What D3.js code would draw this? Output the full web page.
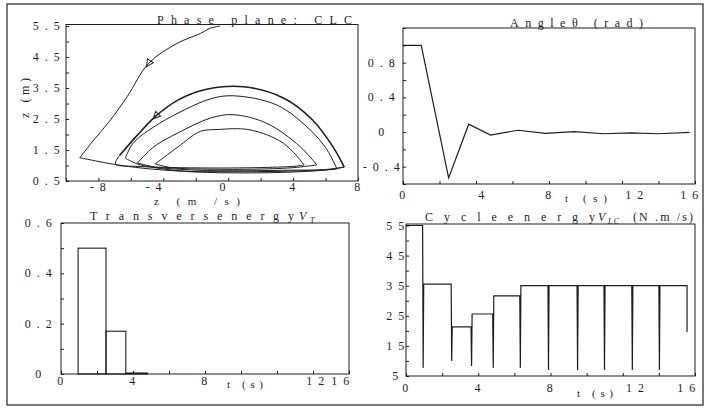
<!DOCTYPE html>
<html>
<head>
<meta charset="utf-8">
<script src="https://cdn.jsdelivr.net/npm/d3@7"></script>
<style>
  body { margin: 0; background: #fff; }
  svg text { font-family: "Liberation Serif", "Times New Roman", serif; fill: #1e1e1e; }
</style>
</head>
<body>
<script>
// ---- data ----

// phase plane (zdot m/s, z m)
const descent = [[-0.5, 5.5], [-1.1, 5.43], [-1.72, 5.26], [-3.16, 4.94], [-4.9, 4.3], [-6.23, 3.22], [-7.26, 2.47], [-8.29, 1.82], [-9.15, 1.25]];
const arcA = [[7.15, 0.95], [6.46, 1.6], [5.2, 2.47], [3.4, 3.18], [0.94, 3.54], [-1.4, 3.45], [-3.1, 3.11], [-4.45, 2.6], [-5.6, 1.98], [-6.7, 1.32]];
const arcB = [[6.7, 0.89], [6.1, 1.5], [5.05, 2.15], [3.0, 2.95], [0.3, 3.25], [-1.1, 3.15], [-3.1, 2.69], [-4.6, 2.24], [-5.85, 1.73], [-6.34, 1.24]];
const arcC = [[5.46, 1.02], [4.43, 1.61], [2.38, 2.36], [0.3, 2.64], [-1.1, 2.53], [-3.1, 2.05], [-4.6, 1.6], [-5.6, 1.08]];
const arcD = [[4.68, 1.02], [3.4, 1.72], [1.35, 2.15], [-0.7, 2.16], [-1.72, 2.1], [-3.1, 1.6], [-4.5, 1.05]];
const stances = [
  [[-9.15, 1.25], [-7.06, 1.04], [-5.2, 0.91], [-2, 0.79], [1, 0.76], [4, 0.79], [6.3, 0.87], [7.15, 0.95]],
  [[-6.7, 1.32], [-6.95, 1.05], [-5.5, 0.97], [-3, 0.93], [0, 0.92], [2.5, 0.94], [4.2, 0.98], [4.68, 1.02]],
  [[-4.5, 1.05], [-3.5, 0.93], [-1, 0.88], [1.5, 0.88], [4, 0.93], [5.46, 1.02]],
  [[-5.6, 1.08], [-4.5, 0.95], [-2, 0.85], [1, 0.83], [4, 0.85], [6, 0.86], [6.7, 0.89]],
  [[-6.34, 1.24], [-5.6, 1.05], [-3, 0.83], [0, 0.8], [3, 0.81], [6, 0.87], [7.15, 0.95]]
];

// angle theta (rad) vs t (s)
const angleT = [0, 1.0, 2.5, 3.6, 4.8, 6.3, 7.8, 9.4, 11.0, 12.5, 14.0, 15.7];
const angleV = [1.0, 1.0, -0.53, 0.09, -0.035, 0.02, -0.015, 0.005, -0.02, -0.01, -0.02, -0.005];

// transverse energy bars
const transStart = [0.95, 2.5, 3.6];
const transEnd = [2.5, 3.6, 4.8];
const transVal = [0.5, 0.17, 0.004];

// cycle energy: touchdown times, dip minimum, level after each touchdown
const cycleStart = 55;
const hopT = [0.92, 2.5, 3.6, 4.8, 6.3, 7.86, 9.47, 10.96, 12.5, 14.0];
const cycleMin = [7.7, 10, 8.3, 7.7, 7.7, 7, 7, 7, 7, 7];
const cycleLevel = [35.5, 21.3, 25.6, 31.6, 35, 35, 35, 35, 35, 35];
const cycleEndT = 15.56;
const cycleEndV = 19.6;

// tick labels
const p1X = [-8, -4, 0, 4, 8], p1Y = [0.5, 1.5, 2.5, 3.5, 4.5, 5.5];
const p2X = [0, 4, 8, 12, 16], p2Y = [-0.4, 0, 0.4, 0.8];
const p3X = [0, 4, 8, 12, 16], p3Y = [0, 0.2, 0.4, 0.6];
const p4X = [0, 4, 8, 12, 16], p4Y = [5, 15, 25, 35, 45, 55];

// ---- drawing ----
const ink = '#1e1e1e';
const svg = d3.select('body').append('svg').attr('width', 717).attr('height', 408);

svg.append('rect').attr('x', 7).attr('y', 4).attr('width', 696).attr('height', 401)
  .attr('fill', 'none').attr('stroke', '#333').attr('stroke-width', 1.3);

const spaced = d => String(d).split('').join(' ');

function panel(o) {
  const x = d3.scaleLinear().domain(o.xDom).range(o.xR);
  const y = d3.scaleLinear().domain(o.yDom).range(o.yR);
  const g = svg.append('g');
  g.append('rect')
    .attr('x', o.xR[0]).attr('y', o.yR[1])
    .attr('width', o.xR[1] - o.xR[0]).attr('height', o.yR[0] - o.yR[1])
    .attr('fill', 'none').attr('stroke', ink).attr('stroke-width', 1);
  g.append('g').attr('transform', `translate(0,${o.yR[0]})`).attr('color', ink)
    .call(d3.axisBottom(x).tickValues(d3.range(o.xDom[0], o.xDom[1] + 1e-9, o.xStep)).tickSize(-3).tickFormat(''))
    .call(a => a.select('.domain').remove());
  g.append('g').attr('transform', `translate(${o.xR[0]},0)`).attr('color', ink)
    .call(d3.axisLeft(y).tickValues(d3.range(o.yTick0, o.yDom[1] + 1e-9, o.yStep)).tickSize(-3).tickFormat(''))
    .call(a => a.select('.domain').remove());
  g.selectAll('text.xl').data(o.xTicks).join('text').attr('class', 'xl')
    .attr('x', d => x(d) + (o.xShift[d] || 0)).attr('y', o.xBase)
    .attr('text-anchor', 'middle').style('font-size', '12px').style('letter-spacing', '1.5px')
    .text(spaced);
  g.selectAll('text.yl').data(o.yTicks).join('text').attr('class', 'yl')
    .attr('x', o.yLabX).attr('y', d => y(d) + 4)
    .attr('text-anchor', 'middle').style('font-size', '12px').style('letter-spacing', '1.5px')
    .text(spaced);
  return { x, y, g };
}

function label(txt, x, y, len, size, extra) {
  const t = svg.append('text').attr('x', x).attr('y', y).style('font-size', (size || 12) + 'px').text(txt);
  if (len) t.attr('textLength', len).attr('lengthAdjust', 'spacing');
  if (extra) extra(t);
  return t;
}

// panel 1: phase plane
const P1 = panel({
  xDom: [-10, 8], xR: [66, 358], yDom: [0.5, 5.55], yR: [181, 24.5],
  xStep: 2, yTick0: 0.5, yStep: 0.5, xTicks: p1X, yTicks: p1Y,
  xShift: { '-4': -9, '0': -5 }, xBase: 191, yLabX: 47
});
const line1 = d3.line().x(d => P1.x(d[0])).y(d => P1.y(d[1])).curve(d3.curveCatmullRom.alpha(0.5));
const curves1 = [descent, arcB, arcC, arcD].concat(stances);
P1.g.selectAll('path.c').data(curves1).join('path').attr('class', 'c')
  .attr('d', line1).attr('fill', 'none').attr('stroke', ink).attr('stroke-width', 1);
P1.g.append('path').attr('d', line1(arcA)).attr('fill', 'none').attr('stroke', ink).attr('stroke-width', 1.6);

// direction arrows on the falling branches
[[descent, 4], [arcA, 7]].forEach(([c, i]) => {
  const px = P1.x(c[i][0]), py = P1.y(c[i][1]);
  const ang = Math.atan2(P1.y(c[i + 1][1]) - py, P1.x(c[i + 1][0]) - px) * 180 / Math.PI;
  P1.g.append('path').attr('d', 'M4,0L-3,-3.5L-3,3.5Z')
    .attr('transform', `translate(${px},${py}) rotate(${ang})`)
    .attr('fill', 'none').attr('stroke', ink).attr('stroke-width', 1);
});

label('Phase plane: CLC', 157, 24, 195);
label('z (m)', 0, 0, 40, 12, t => t.attr('text-anchor', 'middle').attr('transform', 'translate(29,98) rotate(-90)'));
label('z (m /s)', 154, 205, 86, 11);

// panel 2: angle
const P2 = panel({
  xDom: [0, 16], xR: [403, 695], yDom: [-0.6, 1.2], yR: [184, 28],
  xStep: 2, yTick0: -0.6, yStep: 0.2, xTicks: p2X, yTicks: p2Y,
  xShift: { '4': 6, '12': 13, '16': -5 }, xBase: 199, yLabX: 382
});
P2.g.append('path')
  .attr('d', d3.line().x((d, i) => P2.x(angleT[i])).y(d => P2.y(d))(angleV))
  .attr('fill', 'none').attr('stroke', ink).attr('stroke-width', 1.2);
label('Angle\u03b8 (rad)', 510, 27, 133);
label('t (s)', 565, 202, 42, 11);

// panel 3: transverse energy
const P3 = panel({
  xDom: [0, 16], xR: [61, 349], yDom: [0, 0.6], yR: [374, 223],
  xStep: 2, yTick0: 0, yStep: 0.1, xTicks: p3X, yTicks: p3Y,
  xShift: { '12': 39, '16': -8 }, xBase: 385, yLabX: 39
});
P3.g.selectAll('rect.bar').data(transVal).join('rect').attr('class', 'bar')
  .attr('x', (d, i) => P3.x(transStart[i]))
  .attr('width', (d, i) => P3.x(transEnd[i]) - P3.x(transStart[i]))
  .attr('y', d => P3.y(d)).attr('height', d => P3.y(0) - P3.y(d))
  .attr('fill', 'none').attr('stroke', ink).attr('stroke-width', 1.1);
label('Transversenergy', 90, 220, 204);
label('V', 299, 220, 0, 12, t => t.style('font-style', 'italic'));
label('T', 310, 223, 0, 8, t => t.style('font-style', 'italic'));
label('t (s)', 227, 388, 36, 11);

// panel 4: cycle energy
const P4 = panel({
  xDom: [0, 16], xR: [406, 695], yDom: [5, 55.5], yR: [376, 224],
  xStep: 2, yTick0: 5, yStep: 5, xTicks: p4X, yTicks: p4Y,
  xShift: { '12': 13, '16': -8 }, xBase: 392, yLabX: 396
});
const cyc = [[0, cycleStart]];
hopT.forEach((t, i) => {
  const prev = i ? cycleLevel[i - 1] : cycleStart;
  cyc.push([t, prev], [t + 0.03, cycleMin[i]], [t + 0.06, cycleLevel[i]]);
});
cyc.push([cycleEndT, cycleLevel[cycleLevel.length - 1]], [cycleEndT, cycleEndV]);
P4.g.append('path')
  .attr('d', d3.line().x(d => P4.x(d[0])).y(d => P4.y(d[1]))(cyc))
  .attr('fill', 'none').attr('stroke', ink).attr('stroke-width', 1.2);
label('Cycleenergy', 425, 221, 170);
label('V', 598, 221, 0, 12, t => t.style('font-style', 'italic'));
label('LC', 608, 224, 11, 8, t => t.style('font-style', 'italic'));
label('(N .m /s)', 633, 221, 60);
label('t (s)', 577, 397, 36, 11);
</script>
</body>
</html>
